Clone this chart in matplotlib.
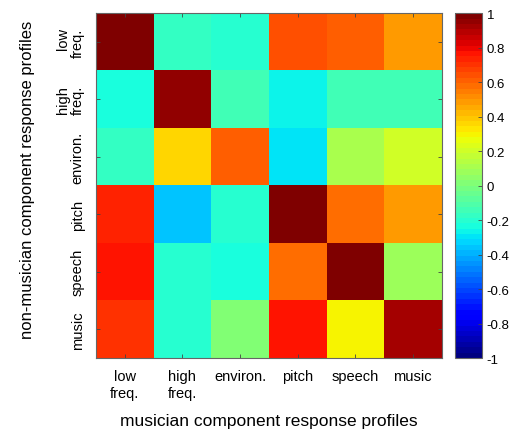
import matplotlib

matplotlib.use("Agg")

import matplotlib.pyplot as plt
import numpy as np

plt.rcParams["font.family"] = ["Liberation Sans", "DejaVu Sans"]

row_labels = ["low\nfreq.", "high\nfreq.", "environ.", "pitch", "speech", "music"]
col_labels = ["low\nfreq.", "high\nfreq.", "environ.", "pitch", "speech", "music"]

# rows: non-musician components, columns: musician components
corr_low_freq = [0.98, -0.16, -0.20, 0.65, 0.62, 0.48]
corr_high_freq = [-0.22, 0.96, -0.14, -0.28, -0.14, -0.14]
corr_environ = [-0.16, 0.36, 0.62, -0.30, 0.10, 0.20]
corr_pitch = [0.73, -0.36, -0.20, 0.98, 0.59, 0.48]
corr_speech = [0.77, -0.20, -0.22, 0.59, 1.00, 0.08]
corr_music = [0.69, -0.20, 0.02, 0.77, 0.31, 0.93]

colorbar_ticks = [-1, -0.8, -0.6, -0.4, -0.2, 0, 0.2, 0.4, 0.6, 0.8, 1]


def main() -> None:
    matrix = np.array(
        [corr_low_freq, corr_high_freq, corr_environ, corr_pitch, corr_speech, corr_music]
    )
    fig = plt.figure(figsize=(5.10, 4.31), dpi=100)
    ax = fig.add_axes([0.188, 0.167, 0.678, 0.800])
    cax = fig.add_axes([0.892, 0.167, 0.053, 0.800])

    image = ax.imshow(
        matrix,
        cmap=plt.get_cmap("jet", 64),
        vmin=-1,
        vmax=1,
        aspect="auto",
        interpolation="nearest",
    )
    n = len(col_labels)
    ax.set_xticks(np.arange(n))
    ax.set_yticks(np.arange(len(row_labels)))
    ax.set_xticklabels(col_labels, fontsize=10.5, linespacing=1.25)
    ax.set_yticklabels(row_labels, fontsize=10.5, rotation=90, va="center", linespacing=1.1)
    ax.tick_params(direction="in", length=3, width=0.6, color="#444444",
                   top=True, right=True, pad=8)
    for spine in ax.spines.values():
        spine.set_color("#666666")
        spine.set_linewidth(0.8)
    ax.set_xlabel("musician component response profiles", fontsize=12.5)
    ax.xaxis.set_label_coords(0.5, -0.158)
    ax.set_ylabel("non-musician component response profiles", fontsize=12)
    ax.yaxis.set_label_coords(-0.176, 0.52)

    cbar = fig.colorbar(image, cax=cax, ticks=colorbar_ticks)
    cbar.ax.set_yticklabels([f"{t:g}" for t in colorbar_ticks])
    cbar.ax.tick_params(direction="in", length=3, width=0.6, labelsize=9.5, color="#444444")
    cbar.outline.set_edgecolor("#666666")
    cbar.outline.set_linewidth(0.8)

    fig.savefig("out.png", dpi=100)
    plt.close(fig)


if __name__ == "__main__":
    main()
